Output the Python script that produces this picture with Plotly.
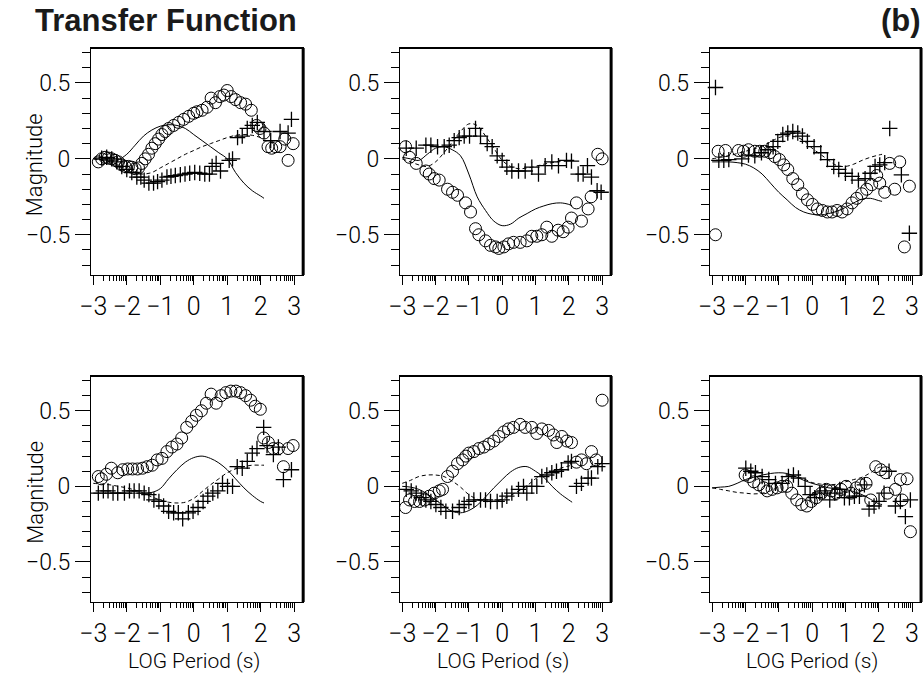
import math
import plotly.graph_objects as go

# ---------------- data ----------------
LINE_X = [-3, -2.75, -2.5, -2.25, -2, -1.75, -1.5, -1.25, -1, -0.75, -0.5, -0.25,
          0, 0.25, 0.5, 0.75, 1, 1.25, 1.5, 1.75, 2, 2.1]

# Panel 1 (top-left)
p1_solid = [0.0, -0.005, -0.01, -0.005, 0.03, 0.09, 0.15, 0.19, 0.215, 0.225, 0.22, 0.2,
            0.16, 0.12, 0.08, 0.04, 0.0, -0.09, -0.16, -0.21, -0.245, -0.26]
p1_dash = [0.0, -0.01, -0.02, -0.04, -0.07, -0.095, -0.1, -0.09, -0.06, -0.03, 0.0, 0.03,
           0.055, 0.08, 0.1, 0.12, 0.14, 0.155, 0.16, 0.155, 0.14, 0.13]
p1_circ_x = [-2.85, -2.75, -2.65, -2.55, -2.45, -2.35, -2.25, -2.15, -2.05, -1.95, -1.85, -1.75,
             -1.65, -1.55, -1.45, -1.35, -1.25, -1.15, -1.05, -0.95, -0.85, -0.75, -0.6, -0.45,
             -0.3, -0.15, 0.0, 0.1, 0.25, 0.4, 0.52, 0.65, 0.78, 0.9, 1.0, 1.12, 1.25, 1.4,
             1.55, 1.72, 1.88, 1.98, 2.1, 2.22, 2.33, 2.45, 2.58, 2.72, 2.82, 2.97]
p1_circ_y = [-0.02, 0.0, 0.01, 0.005, 0.0, -0.01, -0.02, -0.04, -0.05, -0.05, -0.055, -0.065,
             -0.06, -0.03, 0.0, 0.03, 0.07, 0.1, 0.13, 0.16, 0.18, 0.2, 0.22, 0.24,
             0.26, 0.28, 0.3, 0.31, 0.32, 0.34, 0.4, 0.37, 0.41, 0.42, 0.45, 0.41, 0.39, 0.37,
             0.36, 0.32, 0.22, 0.2, 0.17, 0.08, 0.07, 0.08, 0.08, 0.13, -0.01, 0.1]
p1_plus_x = [-2.75, -2.6, -2.45, -2.3, -2.15, -2.0, -1.85, -1.7, -1.58, -1.48, -1.34, -1.2,
             -1.08, -0.95, -0.8, -0.68, -0.55, -0.4, -0.26, -0.12, 0.03, 0.18, 0.33, 0.47,
             0.55, 0.67, 0.8, 1.06, 1.16, 1.31, 1.45, 1.6, 1.75, 1.9, 2.1, 2.3, 2.58, 2.82, 2.92]
p1_plus_y = [0.005, 0.01, 0.0, -0.02, -0.05, -0.07, -0.09, -0.12, -0.12, -0.14, -0.16, -0.16,
             -0.15, -0.14, -0.12, -0.115, -0.11, -0.105, -0.1, -0.095, -0.09, -0.095, -0.1, -0.1,
             -0.05, -0.03, -0.08, -0.01, 0.0, 0.14, 0.15, 0.2, 0.22, 0.24, 0.18, 0.12, 0.18, 0.17, 0.26]

# Panel 2 (top-middle)
p2_solid = [0.01, 0.0, -0.01, 0.03, 0.07, 0.08, 0.06, 0.02, -0.1, -0.25, -0.34, -0.41,
            -0.44, -0.43, -0.39, -0.36, -0.33, -0.31, -0.295, -0.29, -0.3, -0.31]
p2_dash = [0.0, -0.02, -0.04, -0.05, -0.02, 0.04, 0.11, 0.18, 0.23, 0.22, 0.15, 0.07,
           -0.01, -0.05, -0.065, -0.06, -0.05, -0.035, -0.025, -0.015, -0.01, -0.01]
p2_circ_x = [-2.9, -2.78, -2.58, -2.29, -2.19, -2.04, -1.89, -1.64, -1.49, -1.34, -1.1, -0.95,
             -0.8, -0.7, -0.5, -0.35, -0.2, -0.1, 0.05, 0.19, 0.34, 0.54, 0.74, 0.89, 1.04,
             1.19, 1.34, 1.49, 1.68, 1.83, 1.98, 2.08, 2.23, 2.38, 2.58, 2.67, 2.87, 3.0]
p2_circ_y = [0.08, 0.01, -0.03, -0.08, -0.1, -0.13, -0.14, -0.2, -0.22, -0.24, -0.29, -0.35,
             -0.46, -0.5, -0.54, -0.57, -0.58, -0.59, -0.58, -0.56, -0.55, -0.55, -0.54, -0.51, -0.51,
             -0.5, -0.45, -0.51, -0.47, -0.48, -0.45, -0.39, -0.29, -0.41, -0.33, -0.25, 0.03, 0.0]
p2_plus_x = [-2.88, -2.58, -2.29, -2.14, -1.94, -1.74, -1.59, -1.44, -1.29, -1.14, -0.98, -0.8,
             -0.65, -0.45, -0.3, -0.15, 0.0, 0.14, 0.29, 0.49, 0.69, 0.89, 1.09, 1.29, 1.49,
             1.69, 1.93, 2.08, 2.28, 2.43, 2.56, 2.68, 2.85, 2.97]
p2_plus_y = [0.07, 0.07, 0.09, 0.09, 0.08, 0.08, 0.09, 0.12, 0.14, 0.15, 0.15, 0.2,
             0.15, 0.1, 0.08, 0.02, -0.01, -0.055, -0.08, -0.08, -0.08, -0.055, -0.1, -0.045, -0.02,
             -0.045, -0.01, -0.015, -0.1, -0.1, -0.045, -0.12, -0.21, -0.22]

# Panel 3 (top-right)
p3_solid = [-0.02, -0.02, -0.02, -0.025, -0.035, -0.06, -0.1, -0.16, -0.22, -0.27, -0.32, -0.35,
            -0.365, -0.37, -0.36, -0.345, -0.32, -0.29, -0.265, -0.26, -0.275, -0.28]
p3_dash = [0.0, 0.01, 0.02, 0.035, 0.05, 0.065, 0.085, 0.11, 0.14, 0.15, 0.145, 0.12,
           0.07, 0.03, -0.01, -0.045, -0.05, -0.035, -0.01, 0.01, 0.025, 0.03]
p3_circ_x = [-2.9, -2.82, -2.6, -2.21, -2.06, -1.91, -1.72, -1.57, -1.42, -1.27, -1.12, -0.98,
             -0.85, -0.73, -0.58, -0.43, -0.29, -0.14, 0.01, 0.16, 0.31, 0.46, 0.6, 0.75, 0.9,
             1.05, 1.2, 1.34, 1.49, 1.64, 1.79, 1.94, 2.03, 2.18, 2.33, 2.48, 2.63, 2.77, 2.92]
p3_circ_y = [-0.5, 0.05, 0.055, 0.055, 0.05, 0.06, 0.05, 0.05, 0.05, 0.04, 0.015, -0.005,
             -0.04, -0.07, -0.13, -0.17, -0.23, -0.27, -0.3, -0.33, -0.34, -0.35, -0.35, -0.34, -0.35,
             -0.33, -0.29, -0.26, -0.23, -0.2, -0.17, -0.11, -0.16, -0.22, -0.03, -0.2, -0.02, -0.58, -0.18]
p3_plus_x = [-2.9, -2.8, -2.65, -2.5, -2.11, -1.91, -1.72, -1.52, -1.32, -1.17, -1.03, -0.88,
             -0.73, -0.58, -0.43, -0.29, -0.14, 0.06, 0.26, 0.46, 0.65, 0.8, 1.0, 1.2, 1.39,
             1.59, 1.74, 1.89, 2.03, 2.18, 2.33, 2.68, 2.92]
p3_plus_y = [0.47, -0.01, -0.01, -0.005, 0.0, 0.025, 0.02, 0.04, 0.06, 0.08, 0.115, 0.16,
             0.17, 0.18, 0.17, 0.15, 0.115, 0.08, 0.04, -0.005, -0.05, -0.07, -0.095, -0.115, -0.14,
             -0.13, -0.095, -0.05, -0.04, -0.025, 0.2, -0.105, -0.49]

# Panel 4 (bottom-left)
p4_solid = [-0.045, -0.045, -0.045, -0.045, -0.045, -0.045, -0.045, -0.04, -0.015, 0.05, 0.11, 0.16,
            0.19, 0.2, 0.185, 0.155, 0.11, 0.05, -0.01, -0.06, -0.1, -0.11]
p4_dash = [0.02, 0.015, 0.01, 0.0, -0.01, -0.025, -0.045, -0.07, -0.09, -0.105, -0.11, -0.105,
           -0.08, -0.035, 0.01, 0.05, 0.09, 0.115, 0.13, 0.14, 0.14, 0.14]
p4_circ_x = [-2.85, -2.76, -2.61, -2.46, -2.27, -2.12, -1.97, -1.83, -1.68, -1.53, -1.39, -1.24,
             -1.09, -0.95, -0.8, -0.65, -0.5, -0.36, -0.21, -0.06, 0.08, 0.23, 0.38, 0.52, 0.67,
             0.82, 0.96, 1.11, 1.26, 1.4, 1.55, 1.7, 1.84, 1.99, 2.09, 2.23, 2.38, 2.53, 2.68,
             2.82, 2.97]
p4_circ_y = [0.065, 0.05, 0.08, 0.12, 0.09, 0.11, 0.115, 0.115, 0.115, 0.12, 0.13, 0.14,
             0.175, 0.185, 0.23, 0.26, 0.28, 0.32, 0.39, 0.43, 0.47, 0.5, 0.55, 0.61, 0.55,
             0.6, 0.62, 0.63, 0.63, 0.62, 0.6, 0.57, 0.53, 0.51, 0.32, 0.29, 0.25, 0.25, 0.13,
             0.25, 0.27]
p4_plus_x = [-2.85, -2.7, -2.56, -2.41, -2.27, -2.07, -1.92, -1.78, -1.63, -1.48, -1.34, -1.19,
             -1.04, -0.9, -0.75, -0.6, -0.46, -0.33, -0.16, -0.02, 0.13, 0.28, 0.42, 0.57, 0.72,
             0.86, 1.01, 1.16, 1.3, 1.45, 1.6, 1.75, 1.89, 2.09, 2.19, 2.38, 2.53, 2.68, 2.92]
p4_plus_y = [-0.045, -0.03, -0.03, -0.045, -0.045, -0.045, -0.03, -0.03, -0.03, -0.045, -0.055, -0.09,
             -0.1, -0.13, -0.165, -0.175, -0.175, -0.215, -0.175, -0.165, -0.14, -0.1, -0.065, -0.045, -0.03,
             0.02, 0.0, 0.0, 0.13, 0.12, 0.165, 0.22, 0.25, 0.39, 0.27, 0.21, 0.26, 0.045, 0.11]

# Panel 5 (bottom-middle)
p5_solid = [0.0, -0.005, -0.02, -0.05, -0.09, -0.13, -0.165, -0.175, -0.16, -0.125, -0.07, -0.01,
            0.045, 0.095, 0.125, 0.13, 0.1, 0.06, 0.0, -0.05, -0.09, -0.105]
p5_dash = [0.02, 0.04, 0.065, 0.075, 0.075, 0.065, 0.035, -0.005, -0.055, -0.085, -0.1, -0.1,
           -0.085, -0.06, -0.03, 0.005, 0.05, 0.08, 0.1, 0.12, 0.135, 0.14]
p5_circ_x = [-2.9, -2.78, -2.63, -2.48, -2.33, -2.19, -2.04, -1.89, -1.79, -1.64, -1.49, -1.34,
             -1.19, -1.09, -1.0, -0.85, -0.7, -0.55, -0.4, -0.25, -0.1, 0.05, 0.19, 0.34, 0.54,
             0.69, 0.89, 1.04, 1.19, 1.39, 1.54, 1.64, 1.79, 1.94, 2.08, 2.23, 2.38, 2.53, 2.68,
             2.82, 3.0]
p5_circ_y = [-0.14, -0.09, -0.1, -0.1, -0.09, -0.065, -0.045, -0.03, -0.02, 0.065, 0.1, 0.15,
             0.175, 0.2, 0.22, 0.23, 0.25, 0.26, 0.28, 0.3, 0.33, 0.36, 0.38, 0.39, 0.41,
             0.39, 0.39, 0.35, 0.38, 0.37, 0.34, 0.29, 0.33, 0.3, 0.29, 0.16, 0.175, 0.15, 0.23,
             0.175, 0.57]
p5_plus_x = [-2.88, -2.73, -2.58, -2.43, -2.29, -2.14, -1.99, -1.84, -1.69, -1.49, -1.29, -1.14,
             -1.0, -0.85, -0.65, -0.5, -0.35, -0.15, 0.0, 0.14, 0.29, 0.49, 0.64, 0.74, 0.89,
             1.04, 1.19, 1.34, 1.49, 1.63, 1.78, 1.98, 2.08, 2.23, 2.38, 2.58, 2.68, 2.87, 3.0]
p5_plus_y = [-0.02, -0.03, -0.045, -0.075, -0.09, -0.1, -0.12, -0.14, -0.165, -0.165, -0.14, -0.12,
             -0.1, -0.09, -0.09, -0.09, -0.1, -0.1, -0.09, -0.065, -0.045, -0.02, 0.0, -0.045, 0.0,
             0.0, 0.065, 0.075, 0.09, 0.1, 0.11, 0.155, 0.165, 0.0, 0.02, 0.055, 0.055, 0.13, 0.15]

# Panel 6 (bottom-right)
p6_solid = [-0.01, -0.005, 0.0, 0.02, 0.045, 0.06, 0.075, 0.085, 0.09, 0.085, 0.065, 0.04,
            0.02, 0.005, -0.01, -0.015, -0.02, -0.035, -0.055, -0.085, -0.115, -0.12]
p6_dash = [-0.01, -0.02, -0.03, -0.04, -0.045, -0.05, -0.045, -0.03, 0.0, 0.05, 0.065, 0.05,
           0.025, 0.015, 0.01, 0.015, 0.03, 0.045, 0.06, 0.09, 0.125, 0.13]
p6_circ_x = [-2.01, -1.89, -1.75, -1.6, -1.45, -1.35, -1.2, -1.05, -0.9, -0.76, -0.61, -0.46,
             -0.31, -0.16, -0.02, 0.13, 0.28, 0.43, 0.58, 0.73, 0.87, 1.02, 1.17, 1.32, 1.47,
             1.62, 1.76, 1.91, 2.06, 2.21, 2.26, 2.5, 2.65, 2.7, 2.85, 2.95]
p6_circ_y = [0.075, 0.065, 0.03, 0.01, -0.01, -0.03, -0.02, -0.01, 0.0, 0.0, -0.045, -0.09,
             -0.12, -0.13, -0.1, -0.075, -0.045, -0.02, -0.03, -0.045, -0.02, 0.0, -0.045, -0.01, 0.01,
             0.02, -0.09, 0.13, 0.11, 0.09, -0.045, -0.02, 0.045, -0.09, 0.05, -0.3]
p6_plus_x = [-1.99, -1.84, -1.7, -1.5, -1.3, -1.1, -0.9, -0.71, -0.56, -0.41, -0.21, -0.06,
             0.08, 0.23, 0.38, 0.53, 0.68, 0.83, 0.97, 1.12, 1.27, 1.42, 1.57, 1.71, 1.86,
             2.01, 2.16, 2.31, 2.5, 2.65, 2.8, 2.95]
p6_plus_y = [0.12, 0.1, 0.09, 0.065, 0.045, 0.02, 0.02, 0.065, 0.075, 0.055, 0.0, -0.055,
             -0.075, -0.045, -0.03, -0.09, -0.045, -0.02, -0.075, -0.075, -0.065, -0.065, 0.01, -0.15, -0.13,
             -0.1, -0.045, 0.1, -0.13, -0.1, -0.2, -0.09]

TITLE = "Transfer Function"
PANEL_LABEL = "(b)"
Y_TITLE = "Magnitude"
X_TITLE = "LOG Period (s)"
X_TICKS = [-3, -2, -1, 0, 1, 2, 3]
Y_TICKS = [-0.5, 0, 0.5]
Y_TICK_TEXT = ["\u22120.5", "0", "0.5"]

panels = [
    (p1_solid, p1_dash, p1_circ_x, p1_circ_y, p1_plus_x, p1_plus_y),
    (p2_solid, p2_dash, p2_circ_x, p2_circ_y, p2_plus_x, p2_plus_y),
    (p3_solid, p3_dash, p3_circ_x, p3_circ_y, p3_plus_x, p3_plus_y),
    (p4_solid, p4_dash, p4_circ_x, p4_circ_y, p4_plus_x, p4_plus_y),
    (p5_solid, p5_dash, p5_circ_x, p5_circ_y, p5_plus_x, p5_plus_y),
    (p6_solid, p6_dash, p6_circ_x, p6_circ_y, p6_plus_x, p6_plus_y),
]

# ---------------- layout ----------------
W, H = 924, 675
COLS_PX = [(80, 295), (393, 607), (707, 921)]
ROWS_PX = [(48, 275), (376, 602)]
FAM = "Roboto, Liberation Sans, sans-serif"
TICK_FONT = dict(family=FAM, size=25, color="black", weight=300)
YTICK_FONT = dict(family=FAM, size=23, color="black", weight=300)
LABEL_FONT = dict(family=FAM, size=22, color="black", weight=300)

minor_x = [n + math.log10(k) for n in range(-3, 3) for k in range(2, 10)]

fig = go.Figure()
layout = dict(width=W, height=H, margin=dict(l=0, r=0, t=0, b=0),
              paper_bgcolor="white", plot_bgcolor="white", showlegend=False)
shapes = []
annotations = []

for i, (solid, dash, cx, cy, px, py) in enumerate(panels):
    r, c = divmod(i, 3)
    n = i + 1
    xa = "x" if n == 1 else f"x{n}"
    ya = "y" if n == 1 else f"y{n}"
    xkey = "xaxis" if n == 1 else f"xaxis{n}"
    ykey = "yaxis" if n == 1 else f"yaxis{n}"
    x0, x1 = COLS_PX[c]
    y0, y1 = ROWS_PX[r]
    layout[xkey] = dict(
        domain=[x0 / W, x1 / W], anchor=ya, range=[-3.07, 3.27],
        tickmode="array", tickvals=X_TICKS, ticks="outside", ticklen=9, tickwidth=1,
        tickcolor="black", showline=True, mirror=True, linecolor="black", linewidth=1.2,
        showgrid=False, zeroline=False, tickfont=TICK_FONT, ticklabelstandoff=0,
        minor=dict(tickmode="array", tickvals=minor_x, ticks="outside", ticklen=5,
                   tickwidth=1, tickcolor="black", showgrid=False),
    )
    layout[ykey] = dict(
        domain=[1 - y1 / H, 1 - y0 / H], anchor=xa, range=[-0.765, 0.73],
        tickmode="array", tickvals=Y_TICKS, ticktext=Y_TICK_TEXT, ticks="outside",
        ticklen=15, tickwidth=1, tickcolor="black", showline=True, mirror=True,
        linecolor="black", linewidth=1.2, showgrid=False, zeroline=False, tickfont=YTICK_FONT,
        ticklabelstandoff=0,
        minor=dict(tick0=0, dtick=0.1, ticks="outside", ticklen=8, tickwidth=1,
                   tickcolor="black", showgrid=False),
    )
    # heavier top and right frame edges
    shapes.append(dict(type="line", xref=f"{xa} domain", yref=f"{ya} domain",
                       x0=0, x1=1, y0=1, y1=1, line=dict(color="black", width=2.2)))
    shapes.append(dict(type="line", xref=f"{xa} domain", yref=f"{ya} domain",
                       x0=1, x1=1, y0=0, y1=1, line=dict(color="black", width=3)))

    fig.add_trace(go.Scatter(x=LINE_X, y=solid, mode="lines", xaxis=xa, yaxis=ya,
                             line=dict(color="black", width=1, shape="spline")))
    fig.add_trace(go.Scatter(x=LINE_X, y=dash, mode="lines", xaxis=xa, yaxis=ya,
                             line=dict(color="black", width=1, dash="4px,3px", shape="spline")))
    fig.add_trace(go.Scatter(x=cx, y=cy, mode="markers", xaxis=xa, yaxis=ya, cliponaxis=False,
                             marker=dict(symbol="circle-open", size=12, color="black",
                                         line=dict(color="black", width=1))))
    fig.add_trace(go.Scatter(x=px, y=py, mode="markers", xaxis=xa, yaxis=ya, cliponaxis=False,
                             marker=dict(symbol="cross-thin-open", size=11, color="black",
                                         line=dict(color="black", width=1.3))))

    if c == 0:
        annotations.append(dict(text=Y_TITLE, xref="paper", yref="paper",
                                x=23 / W, y=1 - ((y0 + y1) / 2 + 3) / H, textangle=-90,
                                showarrow=False, xanchor="center", yanchor="middle",
                                font=LABEL_FONT))
    if r == 1:
        annotations.append(dict(text=X_TITLE, xref="paper", yref="paper",
                                x=((x0 + x1) / 2 - 3) / W, y=1 - 661 / H,
                                showarrow=False, xanchor="center", yanchor="middle",
                                font=dict(LABEL_FONT, size=21)))

annotations.append(dict(text=f"<b>{TITLE}</b>", xref="paper", yref="paper",
                        x=21 / W, y=1 - 21 / H, xanchor="left", yanchor="middle",
                        showarrow=False,
                        font=dict(family="Liberation Sans, Arial, sans-serif", size=31,
                                  color="#1a1a1a")))
annotations.append(dict(text=f"<b>{PANEL_LABEL}</b>", xref="paper", yref="paper",
                        x=923 / W, y=1 - 21 / H, xanchor="right", yanchor="middle",
                        showarrow=False,
                        font=dict(family="Liberation Sans, Arial, sans-serif", size=31,
                                  color="#1a1a1a")))

layout["shapes"] = shapes
layout["annotations"] = annotations
fig.update_layout(**layout)
fig.write_html("out.html")
